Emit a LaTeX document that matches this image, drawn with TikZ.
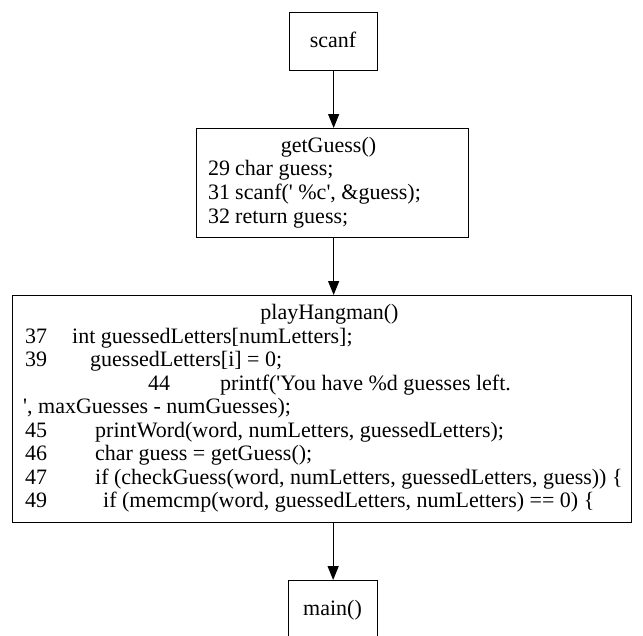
\documentclass[tikz,border=0pt]{standalone}
\usepackage{fontspec}
\newfontfamily\gvfont{Liberation Serif}
\usetikzlibrary{arrows.meta}
\begin{document}
\begin{tikzpicture}[x=1pt,y=-1pt,
  box/.style={draw, line width=1.3pt, inner sep=0pt, anchor=north west},
  title/.style={anchor=base, inner sep=0pt, font=\gvfont\fontsize{22}{23.6}\selectfont},
  code/.style={anchor=base west, inner sep=0pt, font=\gvfont\fontsize{22}{23.6}\selectfont},
  edge/.style={line width=1.3pt, -{Triangle[length=14pt,width=11pt]}}
]
\fill[white] (0,0) rectangle (643,635);
\useasboundingbox (0,0) rectangle (643,635);

% call nodes
\node[box, minimum width=88, minimum height=58] (scanf) at (289,12) {};
\node[title] (scanfT) at (333,47) {scanf};

\node[box, minimum width=272, minimum height=109] (getguess) at (196,128) {};
\node[title] (ggT) at (328.5,152) {getGuess()};
\node[code] (gg29) at (208,175.5) {29};
\node[code] (gg29c) at (235,175.5) {char guess;};
\node[code] (gg31) at (208,199) {31};
\node[code] (gg31c) at (235,199) {scanf(' \%c', \&guess);};
\node[code] (gg32) at (208,223) {32};
\node[code] (gg32c) at (235,223) {return guess;};

\node[box, minimum width=619, minimum height=227] (play) at (12,295) {};
\node[title] (phT) at (329.5,319) {playHangman()};
\node[code] (p37) at (25,343) {37};
\node[code] (p37c) at (72,343) {int guessedLetters[numLetters];};
\node[code] (p39) at (25,366.5) {39};
\node[code] (p39c) at (90,366.5) {guessedLetters[i] = 0;};
\node[code] (p44) at (148,390) {44};
\node[code] (p44c) at (220,390) {printf('You have \%d guesses left.};
\node[code] (p44d) at (23,413.5) {', maxGuesses - numGuesses);};
\node[code] (p45) at (25,437) {45};
\node[code] (p45c) at (95,437) {printWord(word, numLetters, guessedLetters);};
\node[code] (p46) at (25,460.5) {46};
\node[code] (p46c) at (95,460.5) {char guess = getGuess();};
\node[code] (p47) at (25,484) {47};
\node[code] (p47c) at (95,484) {if (checkGuess(word, numLetters, guessedLetters, guess)) \{};
\node[code] (p49) at (25,507.5) {49};
\node[code] (p49c) at (103,507.5) {if (memcmp(word, guessedLetters, numLetters) == 0) \{};

\node[box, minimum width=89, minimum height=58] (main) at (288,580) {};
\node[title] (mainT) at (332.5,615) {main()};

% call edges
\draw[edge] (scanf.south) -- (scanf.south |- getguess.north);
\draw[edge] (getguess.south -| scanf.south) -- (scanf.south |- play.north);
\draw[edge] (main.north |- play.south) -- (main.north);
\end{tikzpicture}
\end{document}
